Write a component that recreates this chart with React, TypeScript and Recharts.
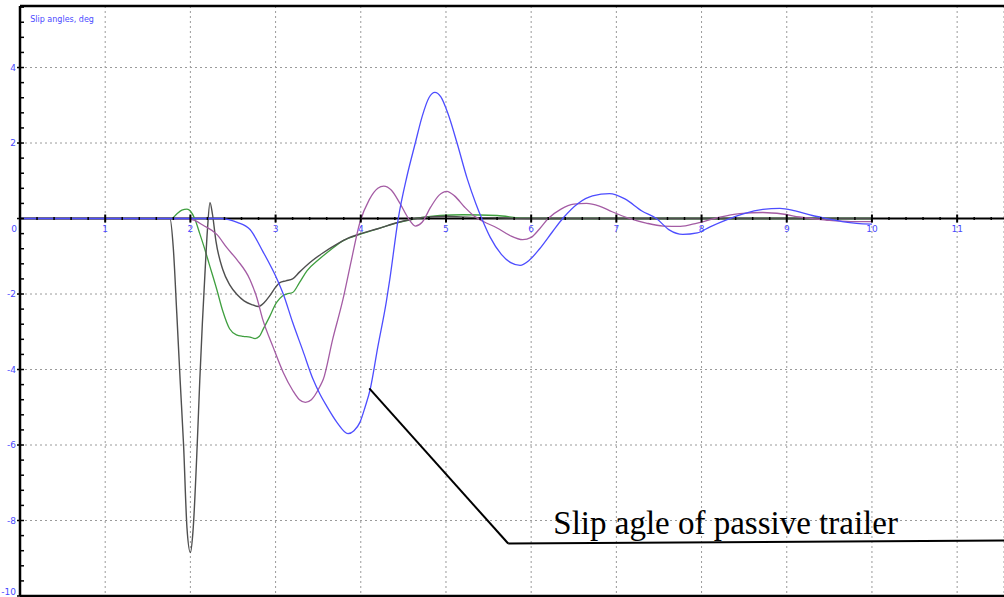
import React from 'react';
import { LineChart, Line, XAxis, YAxis, ReferenceLine, ReferenceDot, CartesianGrid } from 'recharts';

// chart frame
const W = 1004;
const H = 597;
const PLOT_TOP = 6;
const PLOT_BOTTOM = 596;
const Y_MIN = -10;
const Y_MAX = 5.63;
const X_MIN = 0;
const X_MAX = 11.55;
const ZERO_Y = PLOT_TOP + ((Y_MAX - 0) / (Y_MAX - Y_MIN)) * (PLOT_BOTTOM - PLOT_TOP);

const LABEL_BLUE = '#4a4aff';
const TICK_FONT = '"DejaVu Sans", sans-serif';

// axis ticks
const xMajorTicks = [0, 1, 2, 3, 4, 5, 6, 7, 8, 9, 10, 11];
const xTickLabels = ['0', '1', '2', '3', '4', '5', '6', '7', '8', '9', '10', '11'];
const yMajorTicks = [-10, -8, -6, -4, -2, 0, 2, 4];
const yTickLabels = ['-10', '-8', '-6', '-4', '-2', '', '2', '4'];
const xGridLines = [1, 2, 3, 4, 5, 6, 7, 8, 9, 10, 11];
const yGridLines = [-8, -6, -4, -2, 2, 4];

// minor ticks: 5 per x unit, 5 per 2 y units
const xMinorTicks = xMajorTicks.flatMap((t) => [t, t + 0.2, t + 0.4, t + 0.6, t + 0.8]).filter((t) => t <= X_MAX);
const yMinorTicks = yMajorTicks.flatMap((t) => [t, t + 0.4, t + 0.8, t + 1.2, t + 1.6]).filter((t) => t <= Y_MAX);

// zero axis drawn under the curves
const zeroX = [X_MIN, X_MAX];
const zeroY = [0, 0];

// time, s
const blueX = [0, 2.35, 2.45, 2.55, 2.7, 2.85, 3.02, 3.09, 3.2, 3.32, 3.44, 3.52, 3.6, 3.72, 3.85, 3.92, 3.99, 4.05, 4.11, 4.2, 4.3, 4.34, 4.44, 4.54, 4.64, 4.72, 4.8, 4.87, 4.94, 5.02, 5.13, 5.25, 5.35, 5.42, 5.52, 5.65, 5.76, 5.87, 5.98, 6.1, 6.25, 6.37, 6.55, 6.72, 6.92, 7.1, 7.3, 7.47, 7.62, 7.78, 7.95, 8.1, 8.3, 8.5, 8.72, 8.92, 9.1, 9.3, 9.47, 9.65, 9.82, 10.0];
const blueY = [0, 0, -0.03, -0.1, -0.29, -0.87, -1.62, -2.0, -2.75, -3.5, -4.26, -4.65, -4.97, -5.4, -5.7, -5.62, -5.4, -5.0, -4.53, -3.4, -2.2, -1.62, 0.0, 1.1, 2.0, 2.7, 3.2, 3.34, 3.22, 2.8, 2.0, 1.05, 0.4, 0.0, -0.5, -0.95, -1.17, -1.24, -1.1, -0.8, -0.35, 0.0, 0.4, 0.6, 0.66, 0.52, 0.2, 0.0, -0.3, -0.42, -0.38, -0.22, -0.03, 0.13, 0.24, 0.27, 0.2, 0.08, 0.0, -0.08, -0.13, -0.15];

const purpleX = [0, 1.95, 2.05, 2.15, 2.31, 2.43, 2.55, 2.7, 2.78, 2.85, 2.97, 3.09, 3.2, 3.28, 3.35, 3.42, 3.52, 3.56, 3.67, 3.79, 3.89, 3.99, 4.1, 4.2, 4.27, 4.36, 4.46, 4.56, 4.64, 4.72, 4.82, 4.92, 5.01, 5.1, 5.22, 5.34, 5.44, 5.6, 5.75, 5.9, 6.0, 6.1, 6.2, 6.35, 6.5, 6.65, 6.8, 6.95, 7.16, 7.35, 7.55, 7.75, 7.95, 8.2, 8.45, 8.72, 8.95, 9.15, 9.3, 9.5, 9.75, 10.0];
const purpleY = [0, 0, -0.05, -0.18, -0.42, -0.78, -1.1, -1.62, -2.1, -2.68, -3.4, -4.08, -4.55, -4.8, -4.87, -4.8, -4.45, -4.26, -3.2, -2.15, -1.1, -0.1, 0.5, 0.8, 0.86, 0.75, 0.4, 0.0, -0.2, -0.1, 0.3, 0.62, 0.72, 0.6, 0.3, 0.05, -0.08, -0.25, -0.45, -0.56, -0.5, -0.27, 0.0, 0.25, 0.38, 0.4, 0.33, 0.18, 0.0, -0.12, -0.2, -0.21, -0.12, 0.03, 0.13, 0.16, 0.12, 0.04, 0.0, -0.05, -0.08, -0.08];

const greenX = [0, 1.78, 1.84, 1.9, 1.96, 2.0, 2.05, 2.11, 2.17, 2.22, 2.31, 2.38, 2.46, 2.54, 2.62, 2.7, 2.76, 2.81, 2.85, 2.93, 3.01, 3.08, 3.13, 3.2, 3.28, 3.37, 3.5, 3.64, 3.8, 3.99, 4.2, 4.44, 4.7, 4.93, 5.2, 5.6, 5.9, 6.2, 10.0];
const greenY = [0, 0, 0.12, 0.22, 0.25, 0.2, 0.0, -0.4, -0.82, -1.2, -1.88, -2.45, -2.92, -3.08, -3.12, -3.14, -3.18, -3.12, -2.95, -2.6, -2.23, -2.05, -2.0, -1.96, -1.7, -1.38, -1.1, -0.84, -0.58, -0.42, -0.27, -0.11, 0.02, 0.08, 0.1, 0.08, 0.01, 0, 0];

const grayX = [0, 1.76, 1.8, 1.84, 1.88, 1.92, 1.96, 2.0, 2.03, 2.08, 2.11, 2.14, 2.17, 2.2, 2.23, 2.26, 2.3, 2.38, 2.46, 2.55, 2.63, 2.72, 2.8, 2.87, 2.93, 3.0, 3.05, 3.12, 3.2, 3.28, 3.4, 3.55, 3.72, 3.85, 4.0, 4.2, 4.44, 4.7, 5.0, 5.3, 5.6, 6.0, 10.0];
const grayY = [0, 0, -0.8, -2.5, -4.3, -6.0, -8.2, -8.85, -8.3, -6.0, -4.3, -2.8, -1.5, -0.3, 0.42, 0.1, -0.6, -1.35, -1.75, -2.02, -2.18, -2.28, -2.33, -2.22, -2.05, -1.82, -1.7, -1.65, -1.6, -1.42, -1.17, -0.92, -0.68, -0.52, -0.4, -0.27, -0.1, 0.02, 0.06, 0.03, 0.02, 0, 0];

// leader line of the annotation
const leaderX = [4.1, 5.73, 11.55];
const leaderY = [-4.5, -8.61, -8.53];

const toPoints = (xs: number[], ys: number[]) => xs.map((x, i) => ({ x, y: ys[i] }));

const zeroData = toPoints(zeroX, zeroY);
const blueData = toPoints(blueX, blueY);
const purpleData = toPoints(purpleX, purpleY);
const greenData = toPoints(greenX, greenY);
const grayData = toPoints(grayX, grayY);

const isMajorX = (v: number) => Math.abs(v - Math.round(v)) < 1e-6;
const isMajorY = (v: number) => Math.abs(v / 2 - Math.round(v / 2)) < 1e-6;

function XTick(props: any) {
  const { x, payload } = props;
  const v = payload.value;
  const major = isMajorX(v);
  const idx = xMajorTicks.indexOf(Math.round(v));
  return (
    <g>
      <line
        x1={x}
        x2={x}
        y1={ZERO_Y - (major ? 4 : 1.5)}
        y2={ZERO_Y + (major ? 4 : 1.5)}
        stroke="#000"
        strokeWidth={major ? 2 : 1.5}
      />
      {major && (
        <text
          x={v === 0 ? x - 6 : x}
          y={ZERO_Y + 13}
          textAnchor="middle"
          fontSize={9}
          fontFamily={TICK_FONT}
          fill={LABEL_BLUE}
        >
          {xTickLabels[idx]}
        </text>
      )}
    </g>
  );
}

function YTick(props: any) {
  const { x, y, payload } = props;
  const v = payload.value;
  const major = isMajorY(v);
  const idx = yMajorTicks.indexOf(Math.round(v));
  const axisX = x;
  return (
    <g>
      <line
        x1={major ? axisX - 3 : axisX}
        x2={axisX + 4}
        y1={y}
        y2={y}
        stroke="#000"
        strokeWidth={1.5}
      />
      {major && (
        <text
          x={axisX - 4}
          y={Math.min(y + 3, H - 2)}
          textAnchor="end"
          fontSize={9}
          fontFamily={TICK_FONT}
          fill={LABEL_BLUE}
        >
          {yTickLabels[idx]}
        </text>
      )}
    </g>
  );
}

function TitleLabel(props: any) {
  const { viewBox } = props;
  return (
    <text x={viewBox.x} y={viewBox.y} fontSize={8} fontFamily={TICK_FONT} fill={LABEL_BLUE}>
      Slip angles, deg
    </text>
  );
}

function NoteLabel(props: any) {
  const { viewBox } = props;
  return (
    <text x={viewBox.x} y={viewBox.y} fontSize={33} fontFamily='"Liberation Serif", "Times New Roman", serif' fill="#000">
      Slip agle of passive trailer
    </text>
  );
}

export default function App() {
  return (
    <div style={{ position: 'absolute', left: 0, top: 0, width: W, height: H, background: '#fff' }}>
      <LineChart width={W} height={H} margin={{ top: PLOT_TOP, right: 0, bottom: H - PLOT_BOTTOM - 1, left: 0 }}>
        <CartesianGrid xAxisId="grid" yAxisId="grid" stroke="#9a9a9a" strokeDasharray="2 3" />
        <XAxis
          xAxisId="grid"
          dataKey="x"
          type="number"
          domain={[X_MIN, X_MAX]}
          ticks={xGridLines}
          allowDataOverflow
          hide
        />
        <YAxis
          yAxisId="grid"
          type="number"
          domain={[Y_MIN, Y_MAX]}
          ticks={yGridLines}
          allowDataOverflow
          hide
        />
        <XAxis
          dataKey="x"
          type="number"
          domain={[X_MIN, X_MAX]}
          ticks={xMinorTicks}
          interval={0}
          height={1}
          allowDataOverflow
          axisLine={false}
          tickLine={false}
          tick={<XTick />}
        />
        <YAxis
          type="number"
          domain={[Y_MIN, Y_MAX]}
          ticks={yMinorTicks}
          interval={0}
          width={20}
          allowDataOverflow
          axisLine={false}
          tickLine={false}
          tickSize={0}
          tickMargin={0}
          tick={<YTick />}
        />

        {/* zero axis under the curves */}
        <Line data={zeroData} dataKey="y" type="linear" stroke="#000" strokeWidth={2} dot={false} isAnimationActive={false} />

        <Line data={greenData} dataKey="y" type="monotone" stroke="#3f9f3f" strokeWidth={1.3} dot={false} isAnimationActive={false} />
        <Line data={grayData} dataKey="y" type="monotone" stroke="#4f4f4f" strokeWidth={1.4} dot={false} isAnimationActive={false} />
        <Line data={purpleData} dataKey="y" type="monotone" stroke="#a45ca4" strokeWidth={1.3} dot={false} isAnimationActive={false} />
        <Line data={blueData} dataKey="y" type="monotone" stroke="#4d4dff" strokeWidth={1.3} dot={false} isAnimationActive={false} />

        {/* frame */}
        <ReferenceLine y={Y_MAX} stroke="#000" strokeWidth={2.5} />
        <ReferenceLine y={Y_MIN} stroke="#000" strokeWidth={2.5} />
        <ReferenceLine x={X_MIN} stroke="#000" strokeWidth={2.5} />

        {/* annotation */}
        <ReferenceLine
          segment={[{ x: leaderX[0], y: leaderY[0] }, { x: leaderX[1], y: leaderY[1] }]}
          stroke="#000"
          strokeWidth={2}
          ifOverflow="visible"
        />
        <ReferenceLine
          segment={[{ x: leaderX[1], y: leaderY[1] }, { x: leaderX[2], y: leaderY[2] }]}
          stroke="#000"
          strokeWidth={2}
          ifOverflow="visible"
        />
        <ReferenceDot x={6.26} y={-8.37} r={0} fill="none" stroke="none" label={<NoteLabel />} />
        <ReferenceDot x={0.12} y={5.2} r={0} fill="none" stroke="none" label={<TitleLabel />} />
      </LineChart>
    </div>
  );
}
